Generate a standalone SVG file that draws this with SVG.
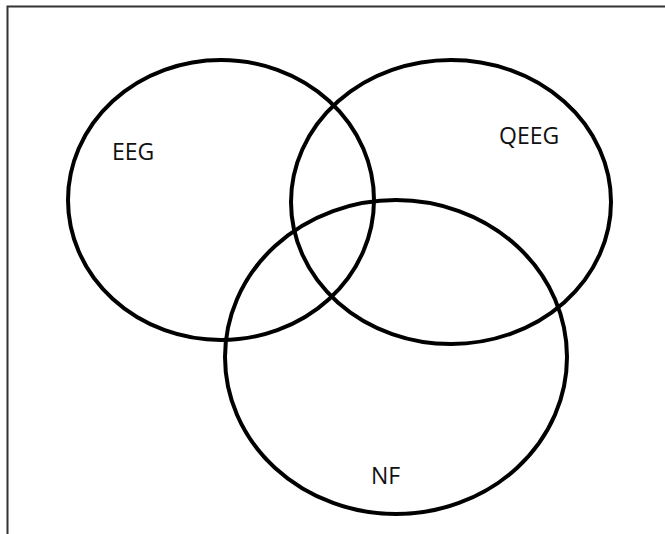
<svg xmlns="http://www.w3.org/2000/svg" width="665" height="534" viewBox="0 0 665 534">
<style>
.c{fill:none;stroke:#000;stroke-width:4}
.t{font-family:"Open Sans","Noto Sans",sans-serif;font-size:23px;fill:#111}
</style>
<rect width="665" height="534" fill="#fff"/>
<g id="frame"><path d="M7.5 534 V6.5 H665" fill="none" stroke="#333" stroke-width="2"/></g>
<g id="eeg"><ellipse class="c" cx="221" cy="200" rx="153" ry="140"/><text class="t" x="112" y="160">EEG</text></g>
<g id="qeeg"><ellipse class="c" cx="451" cy="202" rx="160" ry="142"/><text class="t" x="499" y="144">QEEG</text></g>
<g id="nf"><ellipse class="c" cx="396" cy="357" rx="171" ry="157"/><text class="t" x="371" y="484">NF</text></g>
<g id="connectors"></g>
</svg>
